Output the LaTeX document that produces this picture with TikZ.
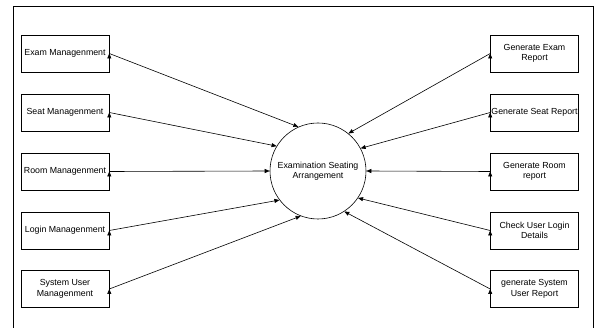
\documentclass[tikz,border=0pt]{standalone}
\usepackage{fontspec}
\setmainfont{Liberation Sans}
\usetikzlibrary{arrows.meta}
\begin{document}
\begin{tikzpicture}[x=1pt, y=-1pt, line width=0.6pt, font=\fontsize{8.8}{10.5}\selectfont]
        \useasboundingbox (0, 0) rectangle (597, 328);
        \draw (13, 328) -- (13, 6) -- (593, 6) -- (593, 328);
        \begin{scope}[every node/.style = {draw, rectangle, align=center, inner sep=0pt, minimum width=88pt, minimum height=37pt}]
            \node (exam) at (65, 53.5) {Exam Managenment};
            \node (seat) at (65, 112.5) {Seat Managenment};
            \node (room) at (65, 171.5) {Room Managenment};
            \node (login) at (65, 230.5) {Login Managenment};
            \node (user) at (65, 289) {System User\\Managenment};
            \node (examrep) at (534.5, 53.5) {Generate Exam\\Report};
            \node (seatrep) at (534.5, 112.5) {Generate Seat Report};
            \node (roomrep) at (534.5, 171.5) {Generate Room\\report};
            \node (check) at (534.5, 230.5) {Check User Login\\Details};
            \node (userrep) at (534.5, 289) {generate System\\User Report};
        \end{scope}
        \node[draw, circle, align=center, minimum size=96pt, inner sep=0pt] (esa) at (318, 171) {Examination Seating\\Arrangement};
        \begin{scope}[-{Triangle[length=5pt, width=4pt]}]
        \draw (exam.east) edge (esa.114);
        \draw (seat.east) edge (esa.149);
        \draw (room.east) edge (esa.180);
        \draw (login.east) edge (esa.217);
        \draw (user.east) edge (esa.249);
        \draw (examrep.west) edge (esa.51);
        \draw (seatrep.west) edge (esa.28);
        \draw (roomrep.west) edge (esa.0);
        \draw (check.west) edge (esa.-34);
        \draw (userrep.west) edge (esa.-57);
        \end{scope}
    \end{tikzpicture}
\end{document}
